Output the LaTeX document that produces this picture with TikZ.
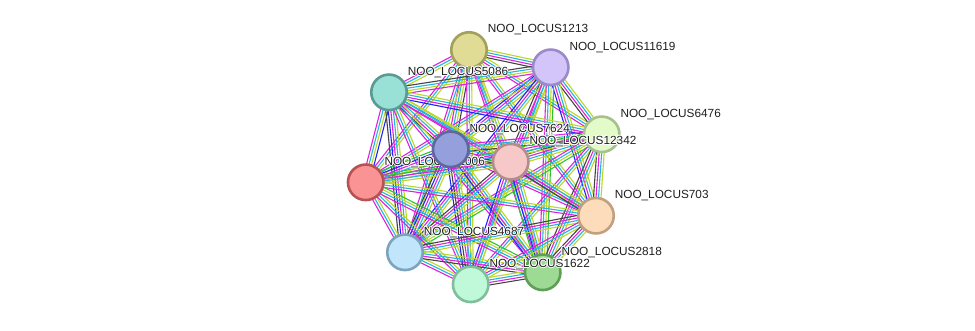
\documentclass[tikz,border=0pt]{standalone}
\usepackage{fontspec}
\setmainfont{Liberation Sans}
\usetikzlibrary{calc}
\pgfdeclarelayer{edges}
\pgfsetlayers{edges,main}
\definecolor{ecm}{HTML}{DD22DD}
\definecolor{ecc}{HTML}{22B6E0}
\definecolor{ecy}{HTML}{BCD62A}
\definecolor{eck}{HTML}{444444}
\definecolor{ecb}{HTML}{2222FF}
\definecolor{ecg}{HTML}{2EC22E}
\tikzset{
  prot/.style={circle, minimum size=35.5pt, inner sep=0pt, line width=2.6pt},
  lbltxt/.style={anchor=base west, inner sep=0pt, font=\fontsize{11.8}{14}\selectfont, text=black!88},
  ln/.style={line width=1.1pt},
}
\newcommand\sedge[3]{%
  \gdef\ncnt{0}%
  \foreach \ecol in {#3}{\pgfmathtruncatemacro\tmpn{\ncnt+1}\xdef\ncnt{\tmpn}}%
  \foreach \ecol [count=\eidx] in {#3}{%
    \pgfmathsetmacro\off{(\eidx-(\ncnt+1)/2)*2.5}%
    \draw[ln, draw=ec\ecol] ($(#1)!\off pt!90:(#2)$) -- ($(#2)!\off pt!-90:(#1)$);
  }}
\newcommand\slabel[3]{%
  \foreach \hx/\hy in {0.9/0,-0.9/0,0/0.9,0/-0.9,0.65/0.65,-0.65/0.65,0.65/-0.65,-0.65/-0.65}{%
    \node[lbltxt, text=white] at ($(#2)+(18.6+\hx,-17.2+\hy)$) {#3};}%
  \node[lbltxt] (#1) at ($(#2)+(18.6,-17.2)$) {#3};}
\begin{document}
\begin{tikzpicture}[x=1pt,y=-1pt]
\useasboundingbox (0,0) rectangle (975,330);
% proteins, each followed by its label
\node[prot, fill={rgb,255:red,224;green,220;blue,150}, draw={rgb,255:red,163;green,160;blue,92}] (A) at (469,50) {};
\slabel{lA}{A}{NOO\_LOCUS1213}
\node[prot, fill={rgb,255:red,211;green,196;blue,250}, draw={rgb,255:red,155;green,137;blue,201}] (B) at (550.7,67.3) {};
\slabel{lB}{B}{NOO\_LOCUS11619}
\node[prot, fill={rgb,255:red,153;green,224;blue,214}, draw={rgb,255:red,90;green,154;blue,147}] (C) at (389,92.3) {};
\slabel{lC}{C}{NOO\_LOCUS5086}
\node[prot, fill={rgb,255:red,226;green,251;blue,201}, draw={rgb,255:red,166;green,192;blue,142}] (D) at (601.7,134.3) {};
\slabel{lD}{D}{NOO\_LOCUS6476}
\node[prot, fill={rgb,255:red,250;green,148;blue,148}, draw={rgb,255:red,184;green,82;blue,82}] (G) at (365.7,182.3) {};
\slabel{lG}{G}{NOO\_LOCUS2006}
\node[prot, fill={rgb,255:red,148;green,159;blue,219}, draw={rgb,255:red,94;green,104;blue,158}] (E) at (450.7,149.3) {};
\slabel{lE}{E}{NOO\_LOCUS7624}
\node[prot, fill={rgb,255:red,246;green,200;blue,200}, draw={rgb,255:red,180;green,140;blue,140}] (F) at (510.7,161.7) {};
\slabel{lF}{F}{NOO\_LOCUS12342}
\node[prot, fill={rgb,255:red,253;green,220;blue,188}, draw={rgb,255:red,193;green,160;blue,127}] (H) at (596,215.7) {};
\slabel{lH}{H}{NOO\_LOCUS703}
\node[prot, fill={rgb,255:red,193;green,230;blue,251}, draw={rgb,255:red,124;green,164;blue,190}] (I) at (405,252.3) {};
\slabel{lI}{I}{NOO\_LOCUS4687}
\node[prot, fill={rgb,255:red,157;green,219;blue,148}, draw={rgb,255:red,94;green,158;blue,86}] (K) at (542.7,272.3) {};
\slabel{lK}{K}{NOO\_LOCUS2818}
\node[prot, fill={rgb,255:red,192;green,248;blue,218}, draw={rgb,255:red,128;green,190;blue,156}] (J) at (470.7,284.3) {};
\slabel{lJ}{J}{NOO\_LOCUS1622}
% edges
\begin{pgfonlayer}{edges}
\fill[white] (0,0) rectangle (975,330);
\sedge{A}{B}{k,m,c,y}
\sedge{A}{C}{m,c,y}
\sedge{A}{D}{m,c,y}
\sedge{A}{E}{m,c,y,k}
\sedge{A}{F}{m,c,y}
\sedge{A}{G}{m,c,y}
\sedge{A}{H}{m,c,y}
\sedge{A}{I}{m,c,y}
\sedge{A}{J}{m,c,y}
\sedge{A}{K}{m,c,y}
\sedge{B}{C}{k,c,y,m}
\sedge{B}{D}{k,m,c,y}
\sedge{B}{E}{b,m,c,y}
\sedge{B}{F}{k,m,c,y}
\sedge{B}{G}{m,c,y}
\sedge{B}{H}{b,m,c,y}
\sedge{B}{I}{b,m,c,y}
\sedge{B}{J}{m,c,y}
\sedge{B}{K}{m,c,y,g}
\sedge{C}{D}{b,m,c,y}
\sedge{C}{E}{k,m,c,y}
\sedge{C}{F}{m,c,y}
\sedge{C}{G}{m,c,y,b}
\sedge{C}{H}{m,c,y}
\sedge{C}{I}{k,b,m,c,y}
\sedge{C}{J}{m,c,y}
\sedge{C}{K}{m,c,y}
\sedge{D}{E}{m,c,y,k}
\sedge{D}{F}{g,k,m,c,y}
\sedge{D}{G}{g,m,c,y}
\sedge{D}{H}{k,m,c,y}
\sedge{D}{I}{m,c,y,g}
\sedge{D}{J}{m,c,y}
\sedge{D}{K}{k,m,c,y}
\sedge{E}{F}{k,b,m,c,y}
\sedge{E}{G}{g,b,m,c,y}
\sedge{E}{H}{m,c,y}
\sedge{E}{I}{k,b,m,c,y}
\sedge{E}{J}{b,k,m,c,y}
\sedge{E}{K}{b,m,c,y}
\sedge{F}{G}{g,m,c,y}
\sedge{F}{H}{k,m,c,y}
\sedge{F}{I}{k,m,c,y}
\sedge{F}{J}{b,m,c,y}
\sedge{F}{K}{g,b,m,c,y}
\sedge{G}{H}{m,c,y}
\sedge{G}{I}{m,c,y}
\sedge{G}{J}{m,c,y}
\sedge{G}{K}{m,c,y,g}
\sedge{H}{I}{k,m,c,y}
\sedge{H}{J}{m,c,y}
\sedge{H}{K}{k,m,c,y}
\sedge{I}{J}{m,c,y}
\sedge{I}{K}{k,m,c,y}
\sedge{J}{K}{k,m,c,y}
\end{pgfonlayer}
\end{tikzpicture}
\end{document}
